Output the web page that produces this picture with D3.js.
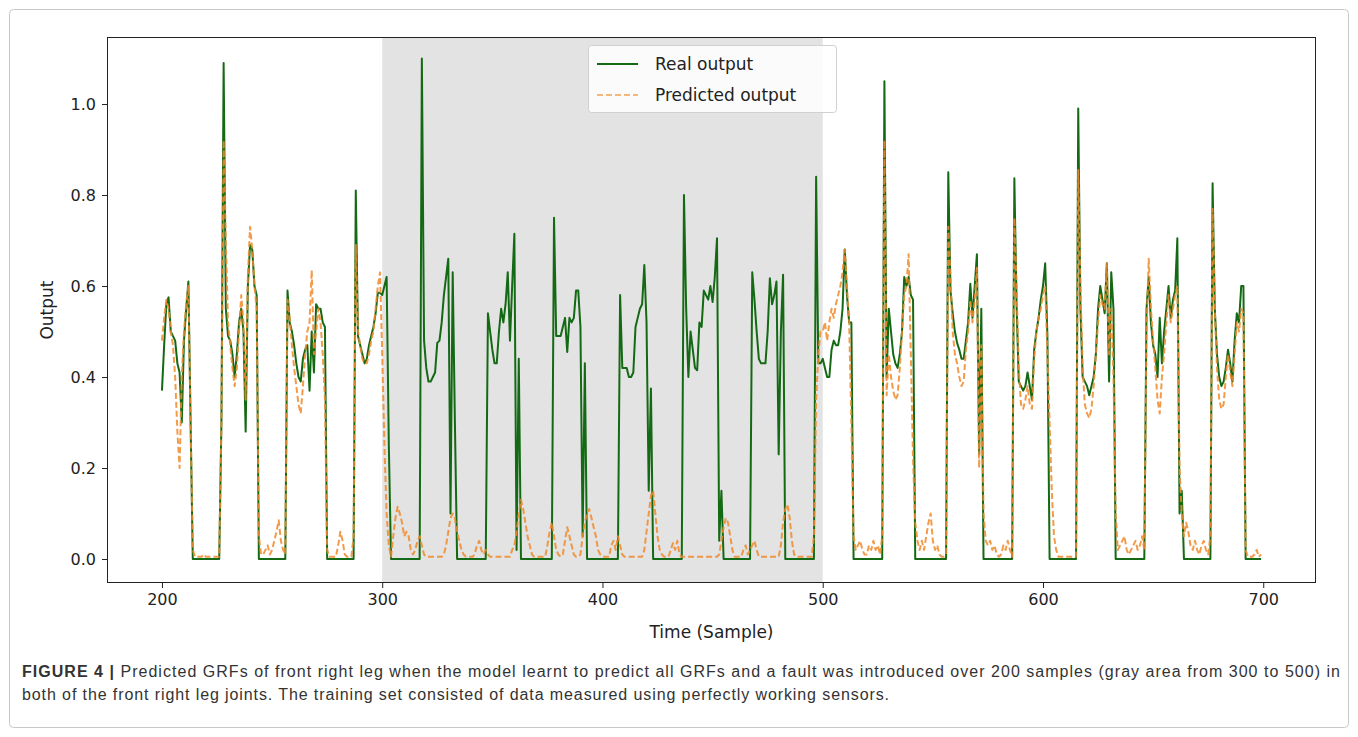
<!DOCTYPE html>
<html>
<head>
<meta charset="utf-8">
<script src="https://cdn.jsdelivr.net/npm/d3@7"></script>
<style>
  html, body { margin: 0; padding: 0; background: #ffffff; }
  svg { display: block; }
</style>
</head>
<body>
<svg id="chart" width="1358" height="737"></svg>
<script>
// ---------------- DATA ----------------
const startSample = 200;
const xTicks = [200, 300, 400, 500, 600, 700];
const yTicks = [0.0, 0.2, 0.4, 0.6, 0.8, 1.0];
const faultStart = 300;
const faultEnd = 500;
const seriesNames = ["Real output", "Predicted output"];

const realOutput = [
  0.37, 0.47, 0.56, 0.575, 0.50, 0.49, 0.48, 0.43, 0.41, 0.30,
  0.48, 0.55, 0.61, 0.30, 0, 0, 0, 0, 0, 0,
  0, 0, 0, 0, 0, 0, 0, 0.30, 1.09, 0.55,
  0.49, 0.48, 0.45, 0.40, 0.45, 0.52, 0.55, 0.50, 0.28, 0.60,
  0.69, 0.68, 0.60, 0.58, 0, 0, 0, 0, 0, 0,
  0, 0, 0, 0, 0, 0, 0, 0.59, 0.52, 0.50,
  0.47, 0.43, 0.40, 0.39, 0.44, 0.46, 0.47, 0.37, 0.50, 0.41,
  0.56, 0.55, 0.55, 0.52, 0.51, 0, 0, 0, 0, 0,
  0, 0, 0, 0, 0, 0, 0, 0, 0.81, 0.49,
  0.47, 0.45, 0.43, 0.44, 0.47, 0.49, 0.51, 0.54, 0.585, 0.585,
  0.58, 0.60, 0.62, 0.25, 0, 0, 0, 0, 0, 0,
  0, 0, 0, 0, 0, 0, 0, 0, 1.10, 0.48,
  0.42, 0.39, 0.39, 0.40, 0.41, 0.475, 0.48, 0.52, 0.58, 0.62,
  0.66, 0.10, 0.63, 0.30, 0, 0, 0, 0, 0, 0,
  0, 0, 0, 0, 0, 0, 0, 0, 0.54, 0.50,
  0.46, 0.43, 0.43, 0.50, 0.55, 0.52, 0.56, 0.63, 0.48, 0.60,
  0.715, 0.02, 0.44, 0, 0, 0, 0, 0, 0, 0,
  0, 0, 0, 0, 0, 0, 0, 0, 0.75, 0.49,
  0.49, 0.49, 0.51, 0.53, 0.455, 0.53, 0.52, 0.53, 0.59, 0.59,
  0.51, 0.05, 0.43, 0, 0, 0, 0, 0, 0, 0,
  0, 0, 0, 0, 0, 0, 0, 0, 0.58, 0.42,
  0.42, 0.42, 0.40, 0.40, 0.41, 0.51, 0.53, 0.55, 0.56, 0.646,
  0.52, 0.15, 0.375, 0, 0, 0, 0, 0, 0, 0,
  0, 0, 0, 0, 0, 0, 0, 0.80, 0.55, 0.40,
  0.50, 0.46, 0.42, 0.415, 0.52, 0.51, 0.59, 0.58, 0.57, 0.60,
  0.565, 0.62, 0.705, 0.04, 0.15, 0, 0, 0, 0, 0,
  0, 0, 0, 0, 0, 0, 0, 0, 0.63, 0.57,
  0.50, 0.44, 0.43, 0.43, 0.43, 0.50, 0.617, 0.56, 0.58, 0.61,
  0.23, 0.50, 0.625, 0, 0, 0, 0, 0, 0, 0,
  0, 0, 0, 0, 0, 0, 0, 0.84, 0.43, 0.43,
  0.44, 0.42, 0.40, 0.40, 0.46, 0.48, 0.47, 0.47, 0.50, 0.55,
  0.68, 0.58, 0.52, 0.52, 0, 0, 0, 0, 0, 0,
  0, 0, 0, 0, 0, 0, 0, 0, 1.05, 0.40,
  0.55, 0.50, 0.45, 0.43, 0.42, 0.45, 0.50, 0.62, 0.60, 0.62,
  0.58, 0.57, 0, 0, 0, 0, 0, 0, 0, 0,
  0, 0, 0, 0, 0, 0, 0, 0.85, 0.59, 0.54,
  0.50, 0.475, 0.46, 0.44, 0.44, 0.48, 0.52, 0.605, 0.53, 0.60,
  0.67, 0.23, 0.55, 0, 0, 0, 0, 0, 0, 0,
  0, 0, 0, 0, 0, 0, 0, 0.837, 0.56, 0.39,
  0.38, 0.37, 0.38, 0.41, 0.38, 0.35, 0.46, 0.50, 0.53, 0.57,
  0.60, 0.65, 0.49, 0, 0, 0, 0, 0, 0, 0,
  0, 0, 0, 0, 0, 0, 0.99, 0.55, 0.40, 0.39,
  0.38, 0.36, 0.38, 0.40, 0.45, 0.55, 0.60, 0.57, 0.54, 0.65,
  0.39, 0.63, 0.55, 0, 0, 0, 0, 0, 0, 0,
  0, 0, 0, 0, 0, 0, 0, 0.55, 0.62, 0.52,
  0.47, 0.45, 0.40, 0.53, 0.43, 0.50, 0.55, 0.60, 0.53, 0.57,
  0.59, 0.705, 0.10, 0.15, 0, 0, 0, 0, 0, 0,
  0, 0, 0, 0, 0, 0, 0, 0.826, 0.55, 0.45,
  0.40, 0.38, 0.39, 0.42, 0.46, 0.43, 0.39, 0.48, 0.54, 0.52,
  0.60, 0.60, 0, 0, 0, 0, 0, 0, 0, 0
];

const predictedOutput = [
  0.48, 0.53, 0.57, 0.55, 0.50, 0.47, 0.40, 0.28, 0.20, 0.40,
  0.50, 0.56, 0.60, 0.30, 0.02, 0.005, 0.005, 0.005, 0.005, 0.01,
  0.005, 0.005, 0.005, 0.005, 0.005, 0.005, 0.005, 0.30, 0.92, 0.70,
  0.52, 0.47, 0.42, 0.38, 0.42, 0.50, 0.58, 0.52, 0.35, 0.62,
  0.73, 0.68, 0.60, 0.55, 0.05, 0.01, 0.01, 0.02, 0.03, 0.01,
  0.02, 0.04, 0.06, 0.085, 0.04, 0.02, 0.01, 0.57, 0.53, 0.47,
  0.42, 0.38, 0.34, 0.32, 0.38, 0.45, 0.50, 0.52, 0.635, 0.45,
  0.50, 0.55, 0.52, 0.45, 0.35, 0.02, 0.005, 0.005, 0.005, 0.005,
  0.03, 0.06, 0.04, 0.01, 0.005, 0.005, 0.005, 0.05, 0.69, 0.50,
  0.47, 0.44, 0.43, 0.43, 0.45, 0.48, 0.50, 0.55, 0.60, 0.63,
  0.45, 0.25, 0.10, 0.03, 0.005, 0.05, 0.09, 0.115, 0.10, 0.08,
  0.05, 0.06, 0.05, 0.02, 0.01, 0.02, 0.04, 0.05, 0.03, 0.01,
  0.005, 0.005, 0.005, 0.005, 0.005, 0.005, 0.005, 0.005, 0.01, 0.03,
  0.06, 0.09, 0.10, 0.09, 0.06, 0.04, 0.02, 0.01, 0.005, 0.005,
  0.005, 0.005, 0.01, 0.03, 0.04, 0.02, 0.01, 0.02, 0.01, 0.005,
  0.005, 0.005, 0.005, 0.005, 0.005, 0.005, 0.005, 0.005, 0.005, 0.02,
  0.03, 0.06, 0.10, 0.13, 0.11, 0.08, 0.05, 0.03, 0.01, 0.005,
  0.005, 0.005, 0.005, 0.005, 0.005, 0.03, 0.06, 0.08, 0.05, 0.02,
  0.01, 0.005, 0.01, 0.04, 0.07, 0.05, 0.03, 0.01, 0.005, 0.005,
  0.01, 0.05, 0.08, 0.10, 0.11, 0.09, 0.07, 0.05, 0.02, 0.01,
  0.005, 0.005, 0.005, 0.005, 0.03, 0.04, 0.02, 0.05, 0.03, 0.01,
  0.005, 0.005, 0.005, 0.005, 0.005, 0.005, 0.005, 0.005, 0.005, 0.02,
  0.06, 0.10, 0.14, 0.15, 0.10, 0.05, 0.02, 0.01, 0.005, 0.005,
  0.005, 0.02, 0.035, 0.02, 0.04, 0.01, 0.005, 0.005, 0.005, 0.005,
  0.005, 0.005, 0.005, 0.005, 0.005, 0.005, 0.005, 0.005, 0.005, 0.005,
  0.005, 0.005, 0.005, 0.01, 0.04, 0.07, 0.09, 0.08, 0.05, 0.02,
  0.005, 0.005, 0.005, 0.005, 0.02, 0.03, 0.01, 0.02, 0.03, 0.04,
  0.02, 0.005, 0.005, 0.005, 0.005, 0.005, 0.005, 0.005, 0.005, 0.005,
  0.005, 0.03, 0.08, 0.11, 0.12, 0.09, 0.04, 0.01, 0.005, 0.005,
  0.005, 0.005, 0.005, 0.005, 0.005, 0.005, 0.05, 0.35, 0.45, 0.50,
  0.50, 0.52, 0.48, 0.52, 0.55, 0.53, 0.56, 0.58, 0.60, 0.63,
  0.68, 0.60, 0.52, 0.30, 0.05, 0.02, 0.03, 0.04, 0.02, 0.01,
  0.01, 0.03, 0.02, 0.04, 0.02, 0.03, 0.01, 0.05, 0.92, 0.36,
  0.45, 0.40, 0.37, 0.35, 0.36, 0.42, 0.50, 0.58, 0.60, 0.67,
  0.45, 0.22, 0.08, 0.04, 0.02, 0.04, 0.02, 0.05, 0.08, 0.10,
  0.04, 0.02, 0.03, 0.01, 0.005, 0.005, 0.01, 0.73, 0.62, 0.50,
  0.45, 0.43, 0.40, 0.38, 0.39, 0.46, 0.50, 0.57, 0.52, 0.57,
  0.64, 0.20, 0.47, 0.10, 0.04, 0.03, 0.04, 0.02, 0.03, 0.01,
  0.005, 0.01, 0.03, 0.02, 0.04, 0.02, 0.005, 0.75, 0.60, 0.42,
  0.34, 0.33, 0.35, 0.38, 0.34, 0.33, 0.44, 0.50, 0.53, 0.55,
  0.58, 0.60, 0.45, 0.30, 0.15, 0.05, 0.02, 0.005, 0.005, 0.005,
  0.005, 0.005, 0.005, 0.005, 0.005, 0.005, 0.855, 0.60, 0.42, 0.34,
  0.32, 0.31, 0.33, 0.38, 0.45, 0.52, 0.58, 0.56, 0.55, 0.65,
  0.45, 0.55, 0.40, 0.10, 0.02, 0.03, 0.04, 0.05, 0.02, 0.01,
  0.02, 0.03, 0.04, 0.02, 0.03, 0.05, 0.02, 0.50, 0.66, 0.55,
  0.48, 0.42, 0.35, 0.32, 0.40, 0.45, 0.52, 0.58, 0.52, 0.55,
  0.58, 0.60, 0.20, 0.10, 0.05, 0.08, 0.06, 0.03, 0.02, 0.04,
  0.02, 0.01, 0.03, 0.04, 0.02, 0.01, 0.05, 0.77, 0.55, 0.42,
  0.35, 0.33, 0.34, 0.40, 0.45, 0.41, 0.38, 0.45, 0.52, 0.50,
  0.55, 0.54, 0.02, 0.005, 0.005, 0.005, 0.01, 0.02, 0.005, 0.01
];

const captionLines = [
  { bold: "FIGURE 4 |", text: " Predicted GRFs of front right leg when the model learnt to predict all GRFs and a fault was introduced over 200 samples (gray area from 300 to 500) in" },
  { bold: "", text: "both of the front right leg joints. The training set consisted of data measured using perfectly working sensors." }
];

// ---------------- LAYOUT ----------------
const svg = d3.select("#chart");
const plot = { left: 107, right: 1316, top: 37, bottom: 583 };
const font = "'DejaVu Sans', sans-serif";

const x = d3.scaleLinear().domain([175.05, 723.95]).range([plot.left, plot.right]);
const y = d3.scaleLinear().domain([-0.0527, 1.1473]).range([plot.bottom, plot.top]);

// Outer figure frame
svg.append("rect")
  .attr("x", 9.5).attr("y", 9.5).attr("width", 1339).attr("height", 718)
  .attr("rx", 4).attr("fill", "none").attr("stroke", "#c8c8c8").attr("stroke-width", 1);

// Clip
svg.append("defs").append("clipPath").attr("id", "plotclip")
  .append("rect").attr("x", plot.left).attr("y", plot.top)
  .attr("width", plot.right - plot.left).attr("height", plot.bottom - plot.top);

// Fault span
svg.append("rect")
  .attr("x", x(faultStart)).attr("y", plot.top)
  .attr("width", x(faultEnd) - x(faultStart)).attr("height", plot.bottom - plot.top)
  .attr("fill", "#e3e3e3");

const realData = realOutput.map((v, i) => [startSample + i, v]);
const predData = predictedOutput.map((v, i) => [startSample + i, v]);
const line = d3.line().x(d => x(d[0])).y(d => y(d[1]));

const g = svg.append("g").attr("clip-path", "url(#plotclip)");
g.append("path").datum(realData)
  .attr("d", line).attr("fill", "none")
  .attr("stroke", "#146914").attr("stroke-width", 2).attr("stroke-linejoin", "round");
g.append("path").datum(predData)
  .attr("d", line).attr("fill", "none")
  .attr("stroke", "#f08a2a").attr("stroke-opacity", 0.85).attr("stroke-width", 2)
  .attr("stroke-dasharray", "6,3").attr("stroke-linejoin", "round");

// Frame
svg.append("rect")
  .attr("x", plot.left + 0.5).attr("y", plot.top + 0.5)
  .attr("width", plot.right - plot.left - 1).attr("height", plot.bottom - plot.top - 1)
  .attr("fill", "none").attr("stroke", "#222").attr("stroke-width", 1);

// Axes
const xAxis = d3.axisBottom(x).tickValues(xTicks).tickFormat(d3.format("d")).tickSizeOuter(0).tickSize(5).tickPadding(6);
const yAxis = d3.axisLeft(y).tickValues(yTicks).tickFormat(d3.format(".1f")).tickSizeOuter(0).tickSize(5).tickPadding(6);

const gx = svg.append("g").attr("transform", `translate(0,${plot.bottom})`).call(xAxis);
const gy = svg.append("g").attr("transform", `translate(${plot.left},0)`).call(yAxis);
[gx, gy].forEach(a => {
  a.select(".domain").remove();
  a.selectAll(".tick line").attr("stroke", "#222");
  a.selectAll(".tick text").attr("font-family", font).attr("font-size", 16).attr("fill", "#222");
});

// Axis labels
svg.append("text")
  .attr("x", (plot.left + plot.right) / 2).attr("y", 638)
  .attr("text-anchor", "middle").attr("font-family", font).attr("font-size", 17).attr("fill", "#222")
  .text("Time (Sample)");
svg.append("text")
  .attr("transform", `translate(53,${(plot.top + plot.bottom) / 2}) rotate(-90)`)
  .attr("text-anchor", "middle").attr("font-family", font).attr("font-size", 17).attr("fill", "#222")
  .text("Output");

// Legend
const lg = svg.append("g");
lg.append("rect").attr("x", 588.5).attr("y", 45.5).attr("width", 248).attr("height", 67)
  .attr("rx", 3).attr("fill", "#ffffff").attr("fill-opacity", 0.85)
  .attr("stroke", "#d0d0d0").attr("stroke-width", 1);
const legendStyles = [
  { stroke: "#146914", dash: null, opacity: 1 },
  { stroke: "#f08a2a", dash: "6,3", opacity: 0.6 }
];
seriesNames.forEach((name, i) => {
  const yy = 64 + i * 31;
  lg.append("line").attr("x1", 597).attr("x2", 638).attr("y1", yy).attr("y2", yy)
    .attr("stroke", legendStyles[i].stroke).attr("stroke-width", 2)
    .attr("stroke-opacity", legendStyles[i].opacity)
    .attr("stroke-dasharray", legendStyles[i].dash);
  lg.append("text").attr("x", 655).attr("y", yy + 6)
    .attr("font-family", font).attr("font-size", 17).attr("fill", "#222").text(name);
});

// Caption
const captionWidths = [1318, 867];
captionLines.forEach((c, i) => {
  const t = svg.append("text").attr("x", 22).attr("y", 677 + i * 23)
    .attr("font-family", "'Liberation Sans', Arial, sans-serif").attr("font-size", 16).attr("fill", "#333")
    .attr("textLength", captionWidths[i]).attr("lengthAdjust", "spacing");
  if (c.bold) t.append("tspan").attr("font-weight", "bold").text(c.bold);
  t.append("tspan").text(c.text);
});
</script>
</body>
</html>
